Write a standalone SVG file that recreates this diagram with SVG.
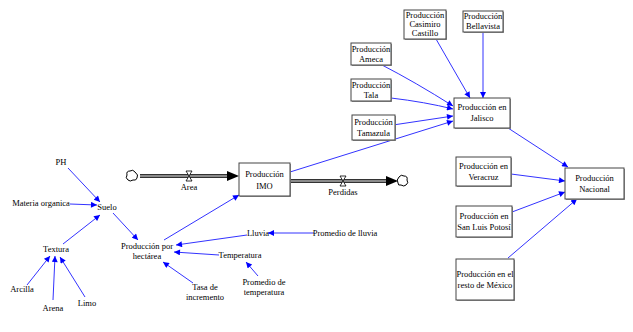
<svg xmlns="http://www.w3.org/2000/svg" width="633" height="332" viewBox="0 0 633 332">
<style>
text{font-family:"Liberation Serif","Times New Roman",serif;font-size:8.5px;fill:#000;text-anchor:middle}
.box{fill:#fff;stroke:#444;stroke-width:1}
.sh{fill:#999}
.lnk{fill:none;stroke:#3333ff;stroke-width:1;marker-end:url(#ah)}
.pipeO{fill:none;stroke:#333;stroke-width:4}
.pipeI{fill:none;stroke:#aaa;stroke-width:1.6}
.cloud{fill:#fff;stroke:#000;stroke-width:1}
.valve{fill:#fff;stroke:#000;stroke-width:0.8}
</style>
<defs>
<marker id="ah" viewBox="0 0 10 10" refX="10" refY="5" markerWidth="8" markerHeight="6" orient="auto" markerUnits="userSpaceOnUse">
<path d="M0,0 L10,5 L0,10 z" fill="#0000ff"/>
</marker>
</defs>
<rect width="633" height="332" fill="#fff"/>

<g id="connectors">
<path class="lnk" d="M68,168 L100,202"/>
<path class="lnk" d="M70,204 L97,205"/>
<path class="lnk" d="M63,244 L100,215"/>
<path class="lnk" d="M27,285 L50,256"/>
<path class="lnk" d="M53,300 L55,256"/>
<path class="lnk" d="M85,297 L60,257"/>
<path class="lnk" d="M113,213 L138,240"/>
<path class="lnk" d="M164,240 L239,195"/>
<path class="lnk" d="M247,235 L176,245"/>
<path class="lnk" d="M219,255 L174,252"/>
<path class="lnk" d="M314,233 L268,233"/>
<path class="lnk" d="M258,276 L246,262"/>
<path class="lnk" d="M193,283 L163,262"/>
<path class="lnk" d="M290,172 L453,121"/>
<path class="lnk" d="M382,65 Q415,82 453,106"/>
<path class="lnk" d="M391,98 Q425,102 453,109"/>
<path class="lnk" d="M393,125 L453,116"/>
<path class="lnk" d="M436,39 L470,98"/>
<path class="lnk" d="M483,32 L483,98"/>
<path class="lnk" d="M508,128 L568,167"/>
<path class="lnk" d="M511,174 L565,181"/>
<path class="lnk" d="M512,212 L565,192"/>
<path class="lnk" d="M508,258 L577,199"/>
</g>

<g id="flow-area">
<path class="pipeO" d="M140,176 L230,176"/>
<path class="pipeI" d="M140,176 L230,176"/>
<path d="M227,171 L239,176 L227,181 z" fill="#000"/>
<path class="cloud" d="M135,172 q-2,-3 -5,-1 q-4,0 -3,4 q-2,3 1,5 q2,2 5,0 q3,1 4,-2 q2,-3 -2,-6 z"/>
<path class="valve" d="M186,171 L192,171 L186,181 L192,181 z"/>
<text x="189" y="190">Area</text>
</g>

<g id="flow-perdidas">
<path class="pipeO" d="M290,181 L390,181"/>
<path class="pipeI" d="M290,181 L390,181"/>
<path d="M386,176 L398,181 L386,186 z" fill="#000"/>
<path class="cloud" d="M399,177 q2,-3 5,-1 q4,0 3,4 q2,3 -1,5 q-2,2 -5,0 q-3,1 -3,-2 q-2,-3 1,-6 z"/>
<path class="valve" d="M340,176 L346,176 L340,186 L346,186 z"/>
<text x="343" y="195">Perdidas</text>
</g>

<g id="imo"><rect class="sh" x="240" y="164" width="51" height="33"/><rect class="box" x="239" y="163" width="51" height="33"/><text x="264.5" y="177">Producción</text><text x="264.5" y="189">IMO</text></g>
<g id="jalisco"><rect class="sh" x="455" y="99" width="56" height="30"/><rect class="box" x="454" y="98" width="56" height="30"/><text x="482" y="110">Producción en</text><text x="482" y="121">Jalisco</text></g>
<g id="casimiro"><rect class="sh" x="405" y="11" width="42" height="29"/><rect class="box" x="404" y="10" width="42" height="29"/><text x="425" y="18">Producción</text><text x="425" y="27">Casimiro</text><text x="425" y="36">Castillo</text></g>
<g id="bellavista"><rect class="sh" x="464" y="12" width="40" height="21"/><rect class="box" x="463" y="11" width="40" height="21"/><text x="483" y="19">Producción</text><text x="483" y="29">Bellavista</text></g>
<g id="ameca"><rect class="sh" x="352" y="44" width="40" height="22"/><rect class="box" x="351" y="43" width="40" height="22"/><text x="371" y="52">Producción</text><text x="371" y="62">Ameca</text></g>
<g id="tala"><rect class="sh" x="352" y="80" width="40" height="22"/><rect class="box" x="351" y="79" width="40" height="22"/><text x="371" y="88">Producción</text><text x="371" y="98">Tala</text></g>
<g id="tamazula"><rect class="sh" x="353" y="116" width="43" height="25"/><rect class="box" x="352" y="115" width="43" height="25"/><text x="373.5" y="125">Producción</text><text x="373.5" y="136">Tamazula</text></g>
<g id="nacional"><rect class="sh" x="566" y="169" width="59" height="31"/><rect class="box" x="565" y="168" width="59" height="31"/><text x="594.5" y="181">Producción</text><text x="594.5" y="192">Nacional</text></g>
<g id="veracruz"><rect class="sh" x="457" y="158" width="55" height="29"/><rect class="box" x="456" y="157" width="55" height="29"/><text x="483.5" y="169">Producción en</text><text x="483.5" y="180">Veracruz</text></g>
<g id="slp"><rect class="sh" x="457" y="207" width="56" height="31"/><rect class="box" x="456" y="206" width="56" height="31"/><text x="484" y="219">Producción en</text><text x="484" y="230">San Luis Potosí</text></g>
<g id="resto"><rect class="sh" x="457" y="260" width="58" height="41"/><rect class="box" x="456" y="259" width="58" height="41"/><text x="485" y="277">Producción en el</text><text x="485" y="288">resto de México</text></g>

<g id="ph"><text x="61" y="165">PH</text></g>
<g id="materia"><text x="41" y="206">Materia organica</text></g>
<g id="suelo"><text x="107" y="210">Suelo</text></g>
<g id="textura"><text x="56" y="252">Textura</text></g>
<g id="arcilla"><text x="22" y="292">Arcilla</text></g>
<g id="arena"><text x="53" y="311">Arena</text></g>
<g id="limo"><text x="87" y="306">Limo</text></g>
<g id="pph"><text x="147" y="249">Producción por</text><text x="147" y="259">hectárea</text></g>
<g id="tasa"><text x="205" y="290">Tasa de</text><text x="205" y="300">incremento</text></g>
<g id="lluvia"><text x="258" y="236">Lluvia</text></g>
<g id="promlluvia"><text x="345" y="236">Promedio de lluvia</text></g>
<g id="temperatura"><text x="240" y="258">Temperatura</text></g>
<g id="promtemp"><text x="264" y="285">Promedio de</text><text x="264" y="295">temperatura</text></g>
</svg>
